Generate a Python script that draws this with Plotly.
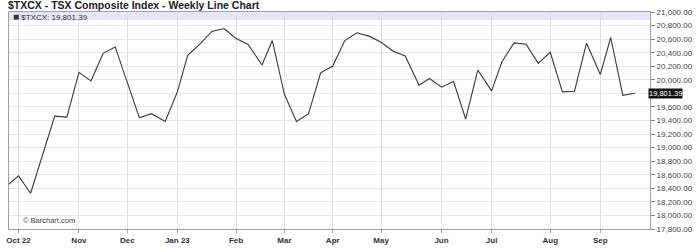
import plotly.graph_objects as go
import pandas as pd

# Weekly dates (Monday-dated bars)
dates = ["2022-09-26", "2022-10-03", "2022-10-10", "2022-10-17", "2022-10-24", "2022-10-31",
         "2022-11-07", "2022-11-14", "2022-11-21", "2022-11-28", "2022-12-05", "2022-12-12",
         "2022-12-19", "2022-12-27", "2023-01-03", "2023-01-09", "2023-01-16", "2023-01-23",
         "2023-01-30", "2023-02-06", "2023-02-13", "2023-02-21", "2023-02-27", "2023-03-06",
         "2023-03-13", "2023-03-20", "2023-03-27", "2023-04-03", "2023-04-10", "2023-04-17",
         "2023-04-24", "2023-05-01", "2023-05-08", "2023-05-15", "2023-05-23", "2023-05-29",
         "2023-06-05", "2023-06-12", "2023-06-19", "2023-06-26", "2023-07-04", "2023-07-10",
         "2023-07-17", "2023-07-24", "2023-07-31", "2023-08-07", "2023-08-14", "2023-08-21",
         "2023-08-28", "2023-09-05", "2023-09-11", "2023-09-18", "2023-09-25"]

closes = [18430, 18584, 18327, 18880, 19465, 19450,
          20109, 19985, 20391, 20485, 19970, 19441,
          19500, 19386, 19822, 20361, 20525, 20713,
          20757, 20609, 20520, 20218, 20579, 19787,
          19386, 19500, 20104, 20203, 20579, 20693,
          20644, 20554, 20421, 20352, 19921, 20020,
          19891, 19975, 19421, 20144, 19837, 20267,
          20545, 20525, 20243, 20406, 19822, 19832,
          20540, 20079, 20624, 19772, 19801.39]

month_tick_dates = ["2022-10-03", "2022-11-07", "2022-12-05", "2023-01-03", "2023-02-06",
                    "2023-03-06", "2023-04-03", "2023-05-01", "2023-06-05", "2023-07-04",
                    "2023-08-07", "2023-09-05"]
month_tick_labels = ["Oct 22", "Nov", "Dec", "Jan 23", "Feb", "Mar", "Apr", "May",
                     "Jun", "Jul", "Aug", "Sep"]

y_ticks = list(range(17800, 21001, 200))

symbol = "$TXCX"
title_text = "$TXCX - TSX Composite Index - Weekly Line Chart"
last_val = closes[-1]

# tick label hidden behind the last-value marker (as in the original)
y_ticktext = ["" if abs(v - last_val) < 100 else f"{v:,.2f}" for v in y_ticks]

FONT = "Liberation Sans, Arial, sans-serif"

fig = go.Figure()
fig.add_trace(go.Scatter(
    x=pd.to_datetime(dates), y=closes, mode="lines",
    line=dict(color="#3a3a3a", width=1.1),
    hoverinfo="skip", showlegend=False,
))

plot_w = 700 - 7 - 34
plot_h = 252 - 12 - 23
band_frac = 8 / plot_h

fig.update_layout(
    width=700, height=252,
    margin=dict(l=7, r=34, t=12, b=23),
    paper_bgcolor="white", plot_bgcolor="white",
    font=dict(family=FONT, size=8, color="#333"),
    xaxis=dict(
        range=["2022-09-27 12:00", "2023-10-03 18:00"],
        tickvals=pd.to_datetime(month_tick_dates), ticktext=month_tick_labels,
        showgrid=True, gridcolor="#e0e0e0", gridwidth=1,
        showline=True, linecolor="#a0a0a0", linewidth=1, mirror=True,
        ticks="outside", ticklen=3, tickcolor="#a0a0a0",
        tickfont=dict(family=FONT, size=8, color="#333", weight="bold"),
        zeroline=False,
    ),
    yaxis=dict(
        range=[17800, 21000], side="right",
        tickvals=y_ticks, ticktext=y_ticktext,
        showgrid=True, gridcolor="#e8e8e8", gridwidth=1,
        showline=True, linecolor="#a0a0a0", linewidth=1, mirror=True,
        ticks="outside", ticklen=4, tickcolor="#888",
        tickfont=dict(family=FONT, size=8, color="#444"),
        zeroline=False,
    ),
    shapes=[dict(type="rect", xref="paper", yref="paper", x0=0, x1=1,
                 y0=1 - band_frac, y1=1, fillcolor="#e6e6fa",
                 line=dict(width=0), layer="below")],
)

fig.add_annotation(xref="paper", yref="paper", x=-3 / plot_w, y=1 + 12 / plot_h - 5.5 / plot_h,
                   xanchor="left", yanchor="middle", showarrow=False,
                   text="<b>" + title_text + "</b>",
                   font=dict(family=FONT, size=10.5, color="#222"))
fig.add_annotation(xref="paper", yref="paper", x=2 / plot_w, y=1 - band_frac / 2,
                   xanchor="left", yanchor="middle", showarrow=False,
                   text="<span style='font-size:10px'>■</span> " + symbol + ": " + f"{last_val:,.2f}",
                   font=dict(family=FONT, size=8, color="#333"))
fig.add_annotation(xref="paper", yref="paper", x=12 / plot_w, y=9 / plot_h,
                   xanchor="left", yanchor="middle", showarrow=False,
                   text="© Barchart.com",
                   font=dict(family=FONT, size=7.5, color="#444"))
fig.add_annotation(xref="paper", yref="y", x=1 + 34 / plot_w, y=last_val,
                   xanchor="right", yanchor="middle", showarrow=False,
                   text=f"{last_val:,.2f}", bgcolor="#111", borderpad=0,
                   font=dict(family=FONT, size=7.5, color="white"))

fig.write_html("out.html")
